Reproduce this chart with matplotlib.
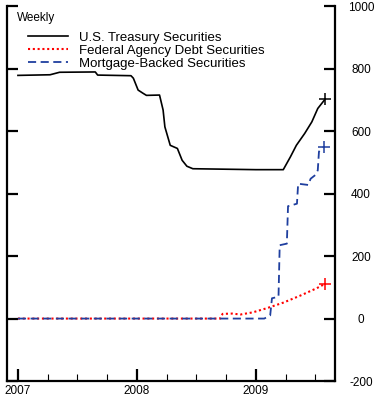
import matplotlib
matplotlib.use("Agg")
import matplotlib.pyplot as plt
from matplotlib.ticker import MultipleLocator

plt.rcParams["font.family"] = ["Liberation Sans", "DejaVu Sans"]
plt.rcParams["axes.unicode_minus"] = False

# Weekly holdings, time as decimal year, values in billions of dollars
treasury_t = [2007.00, 2007.27, 2007.35, 2007.65, 2007.67, 2007.95, 2007.97, 2008.01,
              2008.05, 2008.08, 2008.19, 2008.22, 2008.235, 2008.28, 2008.34, 2008.38,
              2008.42, 2008.47, 2009.00, 2009.23, 2009.29, 2009.34, 2009.41, 2009.47,
              2009.52, 2009.58]
treasury_v = [779, 781, 789, 790, 780, 778, 770, 732,
              722, 715, 716, 668, 614, 555, 545, 507,
              488, 480, 477, 477, 518, 555, 593, 630,
              673, 702]

agency_t = [2007.00, 2008.70, 2008.72, 2008.80, 2008.87, 2008.975, 2009.09, 2009.23,
            2009.37, 2009.51, 2009.58]
agency_v = [0, 0, 15, 16, 13, 20, 33, 51, 73, 97, 111]

mbs_t = [2007.00, 2009.07, 2009.12, 2009.135, 2009.19, 2009.20, 2009.26, 2009.27,
         2009.30, 2009.345, 2009.355, 2009.44, 2009.46, 2009.50, 2009.52, 2009.53, 2009.57]
mbs_v = [0, 0, 10, 65, 70, 235, 240, 360,
         363, 368, 432, 428, 448, 460, 475, 535, 550]

year_ticks = [2007, 2008, 2009]
labels = ["U.S. Treasury Securities", "Federal Agency Debt Securities",
          "Mortgage-Backed Securities"]

fig = plt.figure(figsize=(3.78, 4.0), dpi=100)
ax = fig.add_axes([0.0185, 0.0475, 0.8675, 0.9365])

series = [
    (treasury_t, treasury_v, dict(color="black", lw=1.2, ls="-")),
    (agency_t, agency_v, dict(color="#ff0000", lw=1.5, ls=(0, (1, 1.3)))),
    (mbs_t, mbs_v, dict(color="#1f3f9f", lw=1.3, ls=(0, (4.5, 2.5)))),
]
for (t, v, style), lab in zip(series, labels):
    ax.plot(t, v, label=lab, **style)
    # "+" marks the latest observation
    ax.plot(t[-1], v[-1], marker="+", ms=8, mew=1.1, color=style["color"], ls="none")

ax.set_xlim(2006.908, 2009.664)
ax.set_ylim(-200, 1000)
ax.set_xticks(year_ticks)
ax.set_xticklabels([str(y) for y in year_ticks])
ax.xaxis.set_minor_locator(MultipleLocator(0.25))
ax.yaxis.set_major_locator(MultipleLocator(200))

ax.spines["top"].set_visible(False)
for s in ("left", "right", "bottom"):
    ax.spines[s].set_linewidth(1.6)

ax.tick_params(axis="x", which="major", direction="in", length=9, width=1.6,
               labelsize=8.5, pad=3, top=False)
ax.tick_params(axis="x", which="minor", direction="in", length=5, width=0.8, top=False)
ax.tick_params(axis="y", which="major", direction="in", length=8, width=1.6,
               left=True, right=True, labelleft=False, labelright=True,
               labelsize=8.5, pad=18.7)
for lab in ax.get_yticklabels():
    lab.set_horizontalalignment("center")

ax.text(0.03, 0.985, "Weekly", transform=ax.transAxes, fontsize=8.5,
        ha="left", va="top")

ax.legend(loc="upper left", bbox_to_anchor=(0.064, 0.932), frameon=False,
          fontsize=9.5, handlelength=3.0, handletextpad=0.9, labelspacing=0.05,
          borderaxespad=0, borderpad=0)

fig.savefig("out.png", dpi=100)
